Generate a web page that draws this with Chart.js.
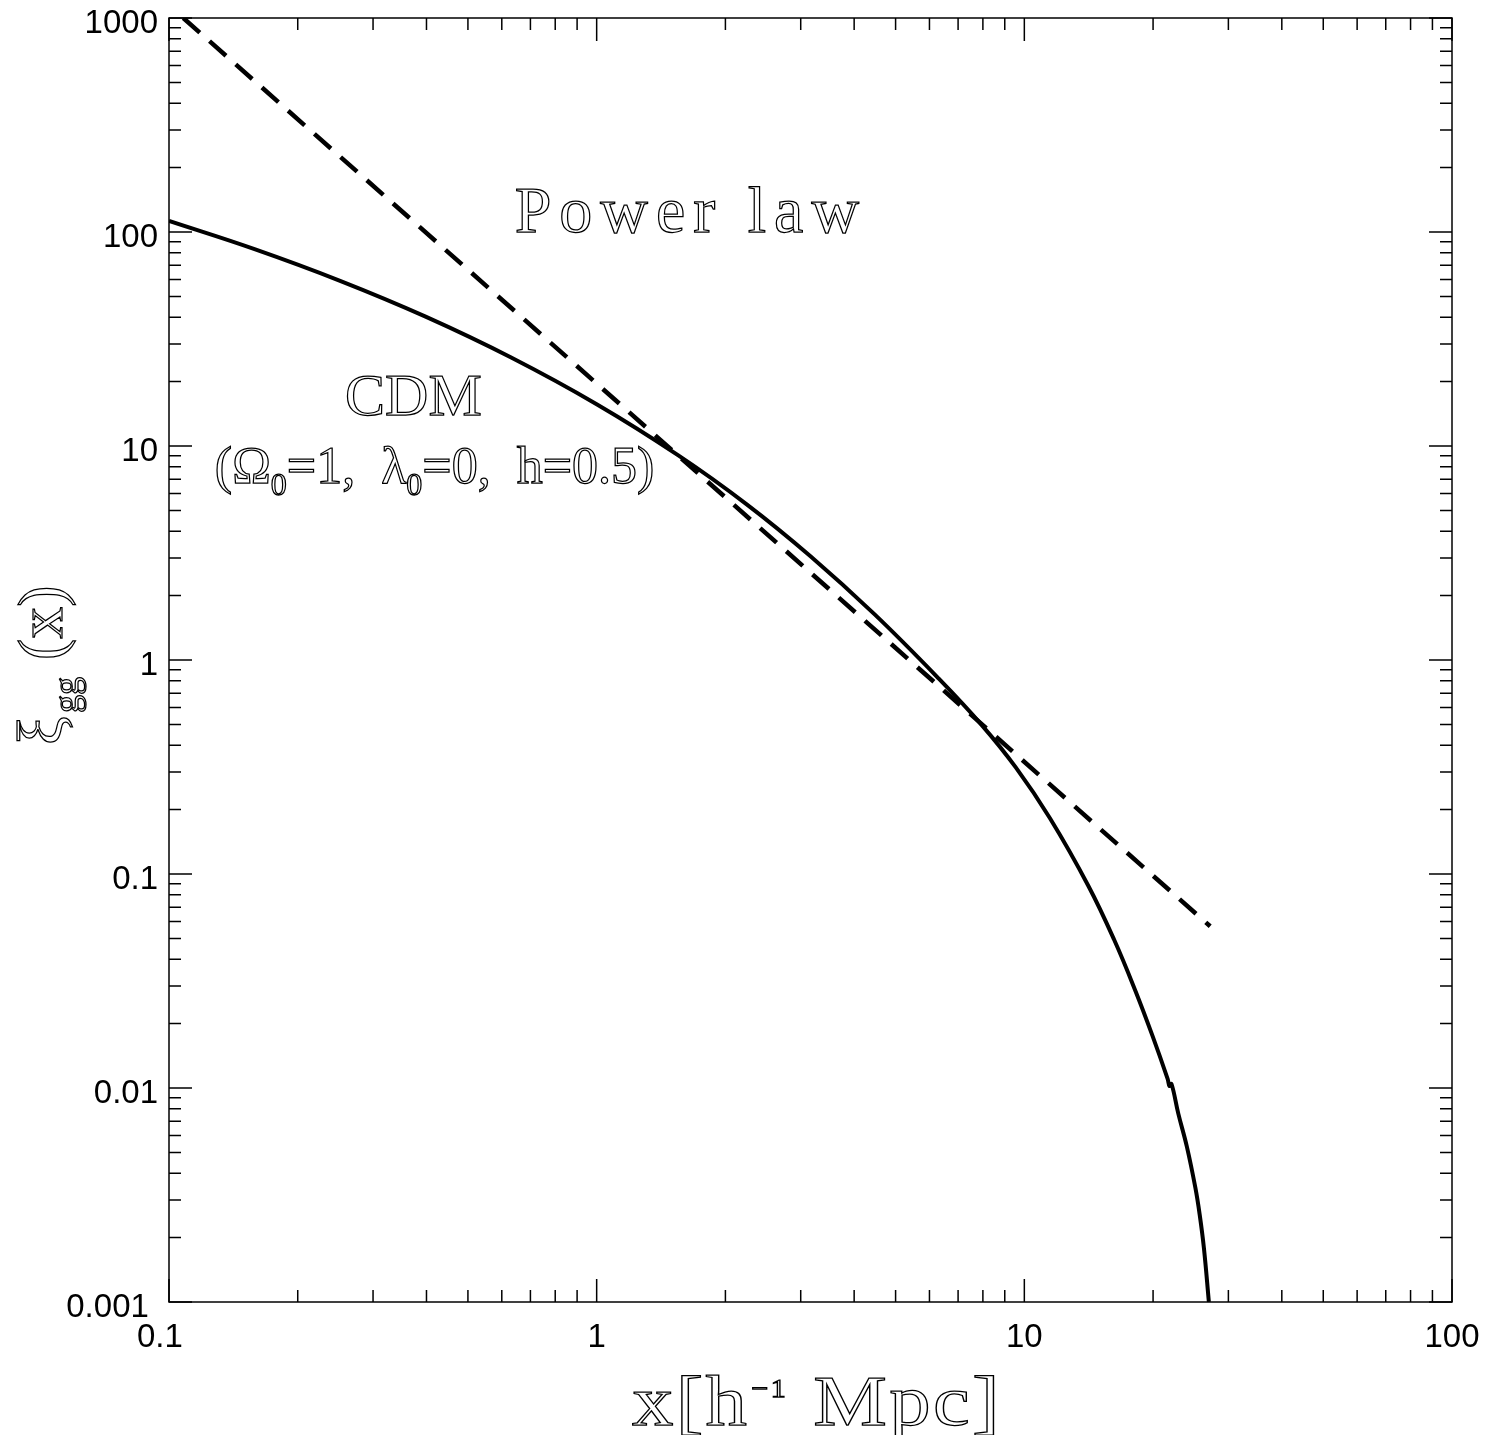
<!DOCTYPE html>
<html>
<head>
<meta charset="utf-8">
<title>Galaxy correlation function</title>
<script src="https://cdn.jsdelivr.net/npm/chart.js@4.4.1/dist/chart.umd.min.js"></script>
<style>
  html, body { margin: 0; background: #fff; }
  canvas { display: block; }
</style>
</head>
<body>
<canvas id="xiChart" width="1500" height="1435"></canvas>
<script>
// CDM model xi_gg(x), separation in h^-1 Mpc
const cdmX = [0.100, 0.1585, 0.2512, 0.3981, 0.631, 1.0, 1.549, 2.239, 3.162, 4.467, 6.31, 7.943,
  9.55, 11.48, 14.13, 16.22, 18.20, 19.95, 21.63, 21.85, 22.09, 22.91, 23.99, 25.12, 25.70, 26.30, 27.01];
const cdmXi = [112.6, 83.1, 59.1, 40.2, 25.9, 15.67, 9.06, 5.35, 3.053, 1.633, 0.818, 0.4977,
  0.3148, 0.1821, 0.0877, 0.04926, 0.02834, 0.01748, 0.01104, 0.01022, 0.01044, 0.00759, 0.00532, 0.00341, 0.002567, 0.001784, 0.001];

// power law fit (straight line in log-log)
const powerX = [0.108, 1.15, 27.2];
const powerXi = [1000, 15.3, 0.057];

// labelled axis ticks
const xTicks = [0.1, 1, 10, 100];
const yTicks = [0.001, 0.01, 0.1, 1, 10, 100, 1000];

const tickFont = { family: '"Liberation Sans", Arial, sans-serif', size: 33, lineHeight: 1 };
const serif = '"Liberation Serif", "Times New Roman", serif';

function points(xs, ys) {
  return xs.map((x, i) => ({ x: x, y: ys[i] }));
}

// every 1..9 step of each decade between min and max
function logSteps(min, max) {
  const out = [];
  const e0 = Math.round(Math.log10(min));
  const e1 = Math.round(Math.log10(max));
  for (let e = e0; e < e1; e++) {
    for (let m = 1; m < 10; m++) out.push({ v: m * Math.pow(10, e), major: m === 1 });
  }
  out.push({ v: max, major: true });
  return out;
}

// hollow lettering: stroke the glyph outlines only
function outline(ctx, str, x, y, size) {
  ctx.font = size + 'px ' + serif;
  ctx.strokeText(str, x, y);
  return ctx.measureText(str).width;
}

const frameAndText = {
  id: 'frameAndText',
  afterDraw(chart) {
    const { ctx, chartArea: a, scales: { x, y } } = chart;
    ctx.save();

    // box with inward ticks on all four sides
    ctx.strokeStyle = '#000';
    ctx.lineWidth = 1.5;
    ctx.strokeRect(a.left, a.top, a.right - a.left, a.bottom - a.top);
    ctx.beginPath();
    for (const t of logSteps(x.min, x.max)) {
      const px = x.getPixelForValue(t.v);
      const len = t.major ? 23 : 12;
      ctx.moveTo(px, a.bottom); ctx.lineTo(px, a.bottom - len);
      ctx.moveTo(px, a.top); ctx.lineTo(px, a.top + len);
    }
    for (const t of logSteps(y.min, y.max)) {
      const py = y.getPixelForValue(t.v);
      const len = t.major ? 23 : 12;
      ctx.moveTo(a.left, py); ctx.lineTo(a.left + len, py);
      ctx.moveTo(a.right, py); ctx.lineTo(a.right - len, py);
    }
    ctx.stroke();

    ctx.lineWidth = 1.25;
    ctx.textAlign = 'left';
    ctx.textBaseline = 'alphabetic';

    // curve labels
    ctx.letterSpacing = '8px';
    outline(ctx, 'Power law', x.getPixelForValue(0.643), y.getPixelForValue(100), 66);
    ctx.letterSpacing = '0px';
    outline(ctx, 'CDM', x.getPixelForValue(0.258), y.getPixelForValue(13.96), 60);

    let cx = x.getPixelForValue(0.128);
    const cy = y.getPixelForValue(6.71);
    cx += outline(ctx, '(\u03a9', cx, cy, 52);
    cx += outline(ctx, '0', cx, cy + 12, 32);
    cx += outline(ctx, '=1,  \u03bb', cx, cy, 52);
    cx += outline(ctx, '0', cx, cy + 12, 32);
    outline(ctx, '=0,  h=0.5)', cx, cy, 52);

    // x axis title
    ctx.save();
    ctx.translate(632, 1425);
    ctx.scale(1.15, 1);
    ctx.letterSpacing = '2px';
    let tx = outline(ctx, 'x[h', 0, 0, 72);
    tx += outline(ctx, '\u22121', tx + 2, -28, 26) + 4;
    outline(ctx, ' Mpc]', tx, 0, 72);
    ctx.restore();

    // y axis title, rotated
    ctx.save();
    ctx.translate(62, 745);
    ctx.rotate(-Math.PI / 2);
    ctx.letterSpacing = '0px';
    outline(ctx, '\u03be', 0, 0, 64);
    outline(ctx, 'gg', 32, 16, 36);
    outline(ctx, '(x)', 85, 0, 64);
    ctx.restore();

    ctx.restore();
  }
};

const ctx = document.getElementById('xiChart').getContext('2d');
const xiChart = new Chart(ctx, {
  type: 'line',
  data: {
    datasets: [{
      label: 'CDM',
      data: points(cdmX, cdmXi),
      borderColor: '#000',
      borderWidth: 4,
      pointRadius: 0,
      tension: 0.4,
      fill: false
    }, {
      label: 'Power law',
      data: points(powerX, powerXi),
      borderColor: '#000',
      borderWidth: 4.5,
      borderDash: [22, 13],
      pointRadius: 0,
      tension: 0,
      fill: false
    }]
  },
  options: {
    responsive: false,
    animation: false,
    layout: { padding: { top: 18, right: 48, left: 0, bottom: 0 } },
    plugins: {
      legend: { display: false },
      tooltip: { enabled: false }
    },
    scales: {
      x: {
        type: 'logarithmic',
        min: 0.1,
        max: 100,
        grid: { display: false, drawTicks: false },
        border: { display: false },
        afterBuildTicks: s => { s.ticks = xTicks.map(v => ({ value: v })); },
        afterFit: s => { s.height = 133; s.paddingLeft = 0; s.paddingRight = 0; },
        ticks: {
          font: tickFont,
          color: '#000',
          padding: 19,
          maxRotation: 0,
          autoSkip: false,
          // corner label nudged left, clear of 0.001
          callback: v => (v === 0.1 ? '0.1  ' : String(v))
        }
      },
      y: {
        type: 'logarithmic',
        min: 0.001,
        max: 1000,
        grid: { display: false, drawTicks: false },
        border: { display: false },
        afterBuildTicks: s => { s.ticks = yTicks.map(v => ({ value: v })); },
        afterFit: s => { s.width = 169; s.paddingTop = 0; s.paddingBottom = 0; },
        ticks: {
          font: tickFont,
          color: '#000',
          padding: 11,
          labelOffset: 6,
          autoSkip: false,
          callback: v => (v === 0.001 ? '0.001 ' : String(v))
        }
      }
    }
  },
  plugins: [frameAndText]
});
</script>
</body>
</html>
